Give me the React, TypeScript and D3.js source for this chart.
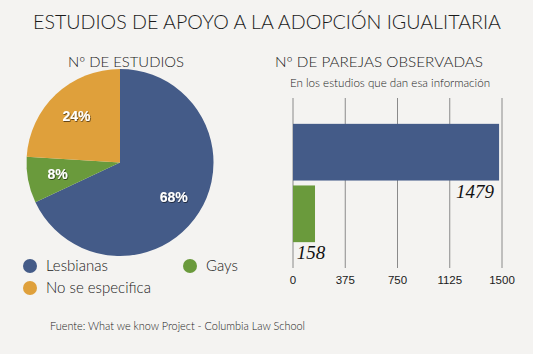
import * as d3 from "d3";

const pieCategories = ["Lesbianas", "Gays", "No se especifica"];
const pieValues = [68, 8, 24];
const pieColors = ["#445b88", "#6a9a3c", "#dfa03b"];

const barCategories = ["Lesbianas", "Gays"];
const barValues = [1479, 158];
const barTicks = [0, 375, 750, 1125, 1500];

const W = 533;
const H = 354;
const titleFont = "'Lato', 'Open Sans', sans-serif";
const handFont = "'Liberation Serif', 'DejaVu Serif', serif";

export default function App() {
  const cx = 120;
  const cy = 162.5;
  const r = 93.5;
  const pie = d3.pie<number>().sort(null).value((d) => d)(pieValues);
  const arc = d3.arc<d3.PieArcDatum<number>>().innerRadius(0).outerRadius(r);
  const labelArc = d3.arc<d3.PieArcDatum<number>>().innerRadius(r * 0.68).outerRadius(r * 0.68);

  const x = d3.scaleLinear().domain([0, 1500]).range([293, 502]);
  const y = d3.scaleBand().domain(barCategories).range([122, 244]).paddingInner(0.08).paddingOuter(0.03);

  const legend = [
    { i: 0, lx: 30, ly: 266 },
    { i: 1, lx: 190, ly: 266 },
    { i: 2, lx: 30, ly: 288 },
  ];

  return (
    <svg width={W} height={H} style={{ position: "absolute", left: 0, top: 0 }}>
      <defs>
        <filter id="sh" x="-20%" y="-20%" width="140%" height="140%">
          <feDropShadow dx="0.6" dy="0.8" stdDeviation="0.6" floodColor="#000" floodOpacity="0.7" />
        </filter>
      </defs>
      <rect width={W} height={H} fill="#f4f3f1" />
      <text x={267} y={29} textAnchor="middle" fontFamily={titleFont} fontWeight={300} fontSize={19.5} fill="#1a1a1a" textLength={468} lengthAdjust="spacingAndGlyphs">
        ESTUDIOS DE APOYO  A LA ADOPCIÓN IGUALITARIA
      </text>
      <text x={126} y={67} textAnchor="middle" fontFamily={titleFont} fontWeight={300} fontSize={14} fill="#1a1a1a" textLength={116} lengthAdjust="spacingAndGlyphs">
        Nº DE ESTUDIOS
      </text>
      <text x={379} y={67} textAnchor="middle" fontFamily={titleFont} fontWeight={300} fontSize={14} fill="#1a1a1a" textLength={208} lengthAdjust="spacingAndGlyphs">
        Nº DE PAREJAS  OBSERVADAS
      </text>
      <text x={390} y={87} textAnchor="middle" fontFamily={titleFont} fontWeight={300} fontSize={11} fill="#1a1a1a" textLength={200} lengthAdjust="spacingAndGlyphs">
        En los estudios que dan esa información
      </text>

      <g transform={`translate(${cx},${cy})`}>
        {pie.map((d, i) => (
          <path key={i} d={arc(d) ?? ""} fill={pieColors[i]} />
        ))}
        {pie.map((d, i) => {
          const [lx, ly] = labelArc.centroid(d);
          return (
            <text key={i} x={lx} y={ly + 5} textAnchor="middle" fontFamily="'Liberation Sans', Arial, sans-serif" fontWeight="bold" fontSize={14} fill="#fff" filter="url(#sh)">
              {d.data}%
            </text>
          );
        })}
      </g>

      {legend.map((l) => (
        <g key={l.i}>
          <circle cx={l.lx} cy={l.ly} r={7} fill={pieColors[l.i]} />
          <text x={l.lx + 16} y={l.ly + 5} fontFamily={titleFont} fontWeight={300} fontSize={15} fill="#1a1a1a">
            {pieCategories[l.i]}
          </text>
        </g>
      ))}

      {barTicks.map((t) => (
        <g key={t}>
          <line x1={x(t)} x2={x(t)} y1={98} y2={268} stroke="#8a8a8a" strokeWidth={1} />
          <text x={x(t)} y={284} textAnchor="middle" fontFamily="'Liberation Sans', Arial, sans-serif" fontSize={11.5} fill="#1a1a1a">
            {t}
          </text>
        </g>
      ))}
      {barCategories.map((c, i) => (
        <rect key={c} x={x(0)} y={y(c)} width={x(barValues[i]) - x(0)} height={y.bandwidth()} fill={pieColors[i]} />
      ))}
      {barCategories.map((c, i) => (
        <text key={c} x={i === 0 ? x(barValues[i]) - 24 : x(barValues[i]) - 4} y={(y(c) ?? 0) + y.bandwidth() + 17} textAnchor="middle" fontFamily={handFont} fontStyle="italic" fontSize={19} fill="#111">
          {barValues[i]}
        </text>
      ))}

      <text x={50} y={330} fontFamily={titleFont} fontWeight={300} fontSize={11} fill="#1a1a1a" textLength={255} lengthAdjust="spacingAndGlyphs">
        Fuente: What we know Project - Columbia Law School
      </text>
    </svg>
  );
}
